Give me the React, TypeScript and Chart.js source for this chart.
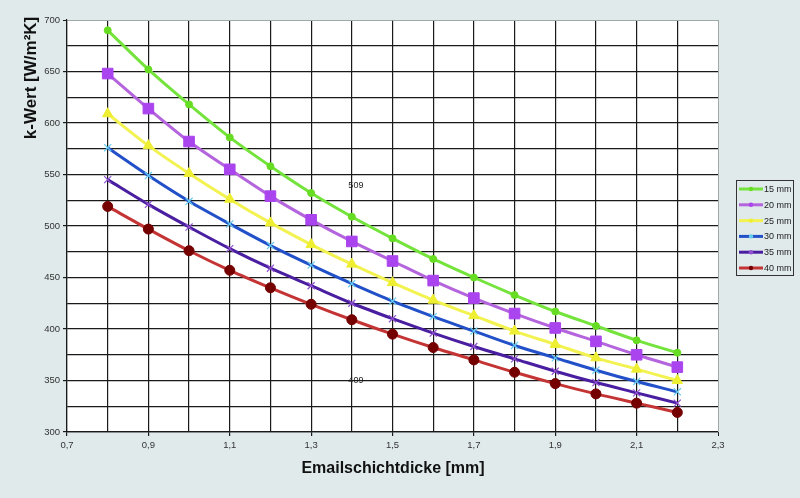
import { useEffect, useRef } from 'react';
import { Chart, registerables } from 'chart.js';

Chart.register(...registerables);

// Emailschichtdicke [mm]
const thickness = [0.8, 0.9, 1.0, 1.1, 1.2, 1.3, 1.4, 1.5, 1.6, 1.7, 1.8, 1.9, 2.0, 2.1, 2.2];

// k-Wert [W/m²K] per Dicke
const k15 = [690, 652, 618, 586, 558, 532, 509, 488, 468, 450, 433, 417, 403, 389, 377];
const k20 = [648, 614, 582, 555, 529, 506, 485, 466, 447, 430, 415, 401, 388, 375, 363];
const k25 = [609, 578, 551, 526, 503, 482, 463, 445, 428, 413, 398, 385, 372, 361, 350];
const k30 = [576, 549, 524, 502, 481, 462, 444, 427, 412, 398, 384, 372, 360, 349, 339];
const k35 = [545, 521, 499, 478, 459, 442, 425, 410, 396, 383, 371, 359, 348, 338, 328];
const k40 = [519, 497, 476, 457, 440, 424, 409, 395, 382, 370, 358, 347, 337, 328, 319];

const seriesLabels = ['15 mm', '20 mm', '25 mm', '30 mm', '35 mm', '40 mm'];

// loose labels in the plot: [x, y, text]
const notes: [number, number, string][] = [
  [1.41, 539, '509'],
  [1.41, 350, '409'],
];

const FONT = '"Liberation Sans", Arial, sans-serif';

const styles = [
  { line: '#74e43c', point: '#66dd22', pstyle: 'circle', r: 3.5 },
  { line: '#b464dc', point: '#aa44ee', pstyle: 'rect', r: 7.5 },
  { line: '#f2f250', point: '#eeee33', pstyle: 'triangle', r: 6 },
  { line: '#2250c8', point: '#66ccee', pstyle: 'crossRot', r: 5 },
  { line: '#4a1ea0', point: '#9050d0', pstyle: 'crossRot', r: 5 },
  { line: '#c43434', point: '#740000', pstyle: 'circle', r: 5 },
];

const tenth = (v: number) => Math.round(v * 10);

const decor = {
  id: 'decor',
  beforeDraw(chart: Chart) {
    const { ctx, chartArea: a } = chart;
    ctx.save();
    ctx.fillStyle = '#e0eaeb';
    ctx.fillRect(0, 0, chart.width, chart.height);
    ctx.fillStyle = '#ffffff';
    ctx.fillRect(a.left, a.top, a.right - a.left, a.bottom - a.top);
    ctx.restore();
  },
  afterDraw(chart: Chart) {
    const { ctx } = chart;
    const xs = chart.scales.x;
    const ys = chart.scales.y;
    ctx.save();
    ctx.fillStyle = '#111';
    ctx.font = `bold 17px ${FONT}`;
    ctx.textAlign = 'center';
    ctx.textBaseline = 'middle';
    ctx.save();
    ctx.translate(31, 78);
    ctx.rotate(-Math.PI / 2);
    ctx.fillText('k-Wert [W/m²K]', 0, 0);
    ctx.restore();
    ctx.font = `bold 16px ${FONT}`;
    ctx.fillText('Emailschichtdicke [mm]', 393, 469);

    ctx.font = `9px ${FONT}`;
    ctx.fillStyle = '#222';
    notes.forEach(([x, y, t]) => ctx.fillText(t, xs.getPixelForValue(x), ys.getPixelForValue(y)));

    // legend
    const bx = 736, by = 180, bw = 57, bh = 95;
    ctx.strokeStyle = '#333';
    ctx.lineWidth = 1;
    ctx.strokeRect(bx + 0.5, by + 0.5, bw, bh);
    ctx.textAlign = 'left';
    ctx.font = `9px ${FONT}`;
    seriesLabels.forEach((lab, i) => {
      const s = styles[i];
      const y = by + 9 + i * 15.8;
      ctx.strokeStyle = s.line;
      ctx.lineWidth = 3;
      ctx.beginPath();
      ctx.moveTo(bx + 3, y);
      ctx.lineTo(bx + 27, y);
      ctx.stroke();
      ctx.fillStyle = s.point;
      ctx.beginPath();
      ctx.arc(bx + 15, y, 2.2, 0, Math.PI * 2);
      ctx.fill();
      ctx.fillStyle = '#222';
      ctx.fillText(lab, bx + 28, y + 0.5);
    });
    ctx.restore();
  },
};

export default function App() {
  const canvasRef = useRef<HTMLCanvasElement>(null);
  const chartRef = useRef<Chart>();

  useEffect(() => {
    document.body.style.margin = '0';
    if (!canvasRef.current) return;
    const all = [k15, k20, k25, k30, k35, k40];

    chartRef.current = new Chart(canvasRef.current, {
      type: 'line',
      data: {
        datasets: all.map((vals, i) => ({
          label: seriesLabels[i],
          data: vals.map((v, j) => ({ x: thickness[j], y: v })),
          borderColor: styles[i].line,
          borderWidth: 3,
          tension: 0.3,
          pointStyle: styles[i].pstyle as any,
          pointRadius: styles[i].r,
          pointBackgroundColor: styles[i].point,
          pointBorderColor: styles[i].point,
          pointBorderWidth: styles[i].pstyle === 'crossRot' ? 1.2 : 1,
        })),
      },
      options: {
        animation: false,
        responsive: false,
        layout: { padding: { top: 20, right: 82, left: 0, bottom: 0 } },
        plugins: { legend: { display: false }, tooltip: { enabled: false } },
        scales: {
          x: {
            type: 'linear',
            min: 0.7,
            max: 2.3,
            afterFit: (s: any) => { s.height = 66; },
            ticks: {
              stepSize: 0.1,
              autoSkip: false,
              maxRotation: 0,
              color: '#333',
              font: { family: FONT, size: 9.5 },
              padding: 4,
              callback: (v: any) => (tenth(v) % 2 === 1 ? (tenth(v) / 10).toFixed(1).replace('.', ',') : ''),
            },
            grid: {
              color: (c: any) => (c.tick && tenth(c.tick.value) === 23 ? '#a0a8a8' : '#1a1a1a'),
              lineWidth: (c: any) => (c.tick && tenth(c.tick.value) === 23 ? 1 : 1.2),
              tickLength: 4,
              tickColor: (c: any) => (c.tick && tenth(c.tick.value) % 2 === 1 ? '#1a1a1a' : 'transparent'),
            },
            border: { color: '#1a1a1a', width: 1.2 },
          },
          y: {
            min: 300,
            max: 700,
            afterFit: (s: any) => { s.width = 67; },
            ticks: {
              stepSize: 25,
              autoSkip: false,
              color: '#333',
              font: { family: FONT, size: 9.5 },
              padding: 3,
              callback: (v: any) => (Math.round(v) % 50 === 0 ? String(v) : ''),
            },
            grid: {
              color: (c: any) => (c.tick && Math.round(c.tick.value) === 700 ? '#a0a8a8' : '#1a1a1a'),
              lineWidth: (c: any) => (c.tick && Math.round(c.tick.value) === 700 ? 1 : 1.2),
              tickLength: 4,
              tickColor: (c: any) => (c.tick && Math.round(c.tick.value) % 50 === 0 ? '#1a1a1a' : 'transparent'),
            },
            border: { color: '#1a1a1a', width: 1.2 },
          },
        },
      },
      plugins: [decor],
    });

    return () => {
      chartRef.current?.destroy();
    };
  }, []);

  return <canvas ref={canvasRef} width={800} height={498} style={{ display: 'block' }} />;
}
